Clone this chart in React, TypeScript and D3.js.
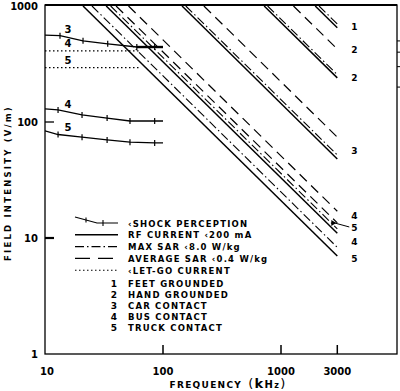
import React from "react";
import * as d3 from "d3";

// ---- data ----
const FREQ_TICKS = [10, 100, 1000, 3000];
const FIELD_TICKS = [1, 10, 100, 1000];
const RIGHT_MINOR = [500, 400, 300, 200];

// shock perception (solid with + marks)
const shock3: [number, number][] = [[10, 562], [13.4, 555], [21, 501], [34, 472], [60, 443], [85, 443], [100, 443]];
const shock4: [number, number][] = [[10, 130], [12.9, 127], [20.6, 115], [33.6, 108], [52.5, 102], [85, 102], [100, 102]];
const shock5: [number, number][] = [[10, 84], [12.9, 78], [20.6, 74], [33.6, 70], [52.5, 67], [85, 66], [100, 66]];

// let-go current (dotted)
const letGo4: [number, number][] = [[10, 410], [62, 410]];
const letGo5: [number, number][] = [[10, 294], [64, 294]];

// RF current < 200 mA (solid diagonals)
const rfCurrent: [number, number][][] = [
  [[1950, 1000], [3000, 650]],
  [[720, 1000], [3000, 240]],
  [[145, 1000], [3000, 48]],
  [[33, 1000], [3000, 11]],
  [[21, 1000], [3000, 7]],
];
// Max SAR < 8.0 W/kg (dash-dot diagonals)
const maxSar: [number, number][][] = [
  [[2100, 1000], [3000, 700]],
  [[770, 1000], [3000, 256]],
  [[156, 1000], [3000, 52]],
  [[36, 1000], [3000, 12]],
  [[25, 1000], [3000, 8.3]],
];
// Average SAR < 0.4 W/kg (dashed diagonals)
const avgSar: [number, number][][] = [
  [[1275, 1000], [3000, 425]],
  [[222, 1000], [3000, 74]],
  [[51, 1000], [3000, 17]],
  [[40, 1000], [3000, 13.5]],
];

const rightLabels = [
  { t: "1", v: 660 },
  { t: "2", v: 425 },
  { t: "2", v: 240 },
  { t: "3", v: 57 },
  { t: "4", v: 15.6 },
  { t: "5", v: 12.2 },
  { t: "4", v: 9.4 },
  { t: "5", v: 6.6 },
];
const leftLabels = [
  { t: "3", v: 540 },
  { t: "4", v: 410 },
  { t: "5", v: 294 },
  { t: "4", v: 122 },
  { t: "5", v: 78 },
];

const legendLines = [
  { kind: "shock", text: "\u2039SHOCK PERCEPTION" },
  { kind: "rf", text: "RF CURRENT \u2039200 mA" },
  { kind: "max", text: "MAX SAR \u20398.0 W/kg" },
  { kind: "avg", text: "AVERAGE SAR \u20390.4 W/kg" },
  { kind: "letgo", text: "\u2039LET-GO CURRENT" },
];
const legendNums = [
  { n: "1", text: "FEET GROUNDED" },
  { n: "2", text: "HAND GROUNDED" },
  { n: "3", text: "CAR CONTACT" },
  { n: "4", text: "BUS CONTACT" },
  { n: "5", text: "TRUCK CONTACT" },
];

// ---- layout ----
const W = 400, H = 391;
const L = 45, R = 397, T = 5, B = 354;
const FONT = "'DejaVu Sans', 'Liberation Sans', sans-serif";

const x = d3.scaleLog().domain([10, 1000]).range([L, 281]);
const y = d3.scaleLog().domain([1, 1000]).range([B, 6]);

const line = d3.line<[number, number]>().x((d) => x(d[0])).y((d) => y(d[1]));

const DASH_MAX = "9,3,1.5,3";
const DASH_AVG = "10,6";
const DASH_DOT = "1.5,2.5";

export default function App() {
  const x3000 = x(3000);
  return (
    <svg width={W} height={H} style={{ display: "block", position: "absolute", left: 0, top: 0, background: "#fff" }}>
      <defs>
        <clipPath id="plot">
          <rect x={L} y={T} width={R - L} height={B - T} />
        </clipPath>
      </defs>
      {/* frame */}
      <rect x={L} y={T} width={R - L} height={B - T} fill="none" stroke="#000" strokeWidth={1.3} />
      <line x1={L} x2={R} y1={T} y2={T} stroke="#000" strokeWidth={2} />

      {/* y ticks */}
      {FIELD_TICKS.map((v) => (
        <g key={"yt" + v}>
          {v !== 1 && v !== 1000 && (
            <line x1={L} x2={L + 9} y1={y(v)} y2={y(v)} stroke="#000" strokeWidth={v === 10 ? 2.2 : 1.3} />
          )}
          <text x={38} y={y(v) + 3.5} textAnchor="end" fontFamily={FONT} fontWeight="bold" fontSize={10}>
            {v}
          </text>
        </g>
      ))}
      {RIGHT_MINOR.map((v) => (
        <line key={"rm" + v} x1={R} x2={R + 3} y1={y(v)} y2={y(v)} stroke="#000" strokeWidth={1} />
      ))}

      {/* x ticks */}
      {FREQ_TICKS.map((f) => (
        <g key={"xt" + f}>
          {f !== 10 && <line x1={x(f)} x2={x(f)} y1={B} y2={B - 9} stroke="#000" strokeWidth={1.5} />}
          <text x={x(f) + (f === 10 ? 2 : 0)} y={375} textAnchor="middle" fontFamily={FONT} fontWeight="bold" fontSize={10}>
            {f}
          </text>
        </g>
      ))}

      {/* axis titles */}
      <text x={228} y={388} textAnchor="middle" fontFamily={FONT} fontWeight="bold" fontSize={9} letterSpacing={1.3}>
        FREQUENCY
        <tspan fontSize={13} dx={6} fontWeight="normal">(</tspan>
        <tspan fontSize={13} fontWeight="bold">k</tspan>
        <tspan fontSize={10}>H</tspan>
        <tspan fontSize={8}>z</tspan>
        <tspan fontSize={13} fontWeight="normal">)</tspan>
      </text>
      <text
        transform={`translate(11,183) rotate(-90)`}
        textAnchor="middle"
        fontFamily={FONT}
        fontWeight="bold"
        fontSize={8.5}
        letterSpacing={2.2}
      >
        FIELD INTENSITY (V/m)
      </text>

      <g clipPath="url(#plot)" fill="none" stroke="#000">
        {/* diagonals */}
        {rfCurrent.map((d, i) => (
          <path key={"rf" + i} d={line(d) || ""} strokeWidth={1.5} />
        ))}
        {maxSar.map((d, i) => (
          <path key={"ms" + i} d={line(d) || ""} strokeWidth={1.1} strokeDasharray={DASH_MAX} />
        ))}
        {avgSar.map((d, i) => (
          <path key={"as" + i} d={line(d) || ""} strokeWidth={1.2} strokeDasharray={DASH_AVG} />
        ))}
        {/* let-go */}
        {[letGo4, letGo5].map((d, i) => (
          <path key={"lg" + i} d={line(d) || ""} strokeWidth={1.1} strokeDasharray={DASH_DOT} />
        ))}
        {/* shock */}
        {[shock3, shock4, shock5].map((d, i) => (
          <g key={"sh" + i}>
            <path d={line(d) || ""} strokeWidth={1.3} />
            {d.slice(1, -1).map((p, j) => (
              <line key={j} x1={x(p[0])} x2={x(p[0])} y1={y(p[1]) - 3} y2={y(p[1]) + 3} strokeWidth={1.2} />
            ))}
          </g>
        ))}
        <path d={line([[60, 443], [100, 443]]) || ""} strokeWidth={2.4} />
      </g>

      {/* right labels */}
      {rightLabels.map((l, i) => (
        <text key={"rl" + i} x={x3000 + 17} y={y(l.v) + 3.5} textAnchor="middle" fontFamily={FONT} fontWeight="bold" fontSize={9}>
          {l.t}
        </text>
      ))}
      {/* leader for 5 */}
      <line x1={x3000 - 3} y1={y(13.5)} x2={x3000 + 12} y2={y(12.2) - 1} stroke="#000" strokeWidth={1} />
      <path
        d={`M${x3000 - 6},${y(13.5) - 3} L${x3000 - 1},${y(13.5)} L${x3000 - 6},${y(13.5) + 3} Z`}
        fill="#000"
      />

      {/* left labels */}
      {leftLabels.map((l, i) => (
        <text key={"ll" + i} x={68} y={y(l.v) - 4} textAnchor="middle" fontFamily={FONT} fontWeight="bold" fontSize={10}>
          {l.t}
        </text>
      ))}

      {/* legend */}
      {legendLines.map((e, i) => {
        const yy = 223 + i * 11.8;
        const x0 = 75, x1 = 118;
        return (
          <g key={"lgd" + i}>
            {e.kind === "shock" && (
              <g stroke="#000" fill="none">
                <path d={`M${x0},${yy - 6} L${x0 + 22},${yy} L${x1},${yy}`} strokeWidth={1.2} />
                <line x1={103} x2={103} y1={yy - 3} y2={yy + 3} strokeWidth={1.1} />
                <line x1={86} x2={86} y1={yy - 5.5} y2={yy - 0.5} strokeWidth={1.1} />
              </g>
            )}
            {e.kind === "rf" && <line x1={x0} x2={x1} y1={yy} y2={yy} stroke="#000" strokeWidth={1.5} />}
            {e.kind === "max" && (
              <line x1={x0} x2={x1} y1={yy} y2={yy} stroke="#000" strokeWidth={1.1} strokeDasharray={DASH_MAX} />
            )}
            {e.kind === "avg" && (
              <line x1={x0} x2={x1} y1={yy} y2={yy} stroke="#000" strokeWidth={1.2} strokeDasharray="15,8" />
            )}
            {e.kind === "letgo" && (
              <line x1={x0} x2={x1} y1={yy} y2={yy} stroke="#000" strokeWidth={1.1} strokeDasharray={DASH_DOT} />
            )}
            <text x={128} y={yy + 3.5} fontFamily={FONT} fontWeight="bold" fontSize={8.5} letterSpacing={1.2}>
              {e.text}
            </text>
          </g>
        );
      })}
      {legendNums.map((e, i) => {
        const yy = 283 + i * 11.2;
        return (
          <g key={"ln" + i}>
            <text x={117} y={yy + 3.5} textAnchor="end" fontFamily={FONT} fontWeight="bold" fontSize={9}>
              {e.n}
            </text>
            <text x={128} y={yy + 3.5} fontFamily={FONT} fontWeight="bold" fontSize={8.5} letterSpacing={1.2}>
              {e.text}
            </text>
          </g>
        );
      })}
    </svg>
  );
}
